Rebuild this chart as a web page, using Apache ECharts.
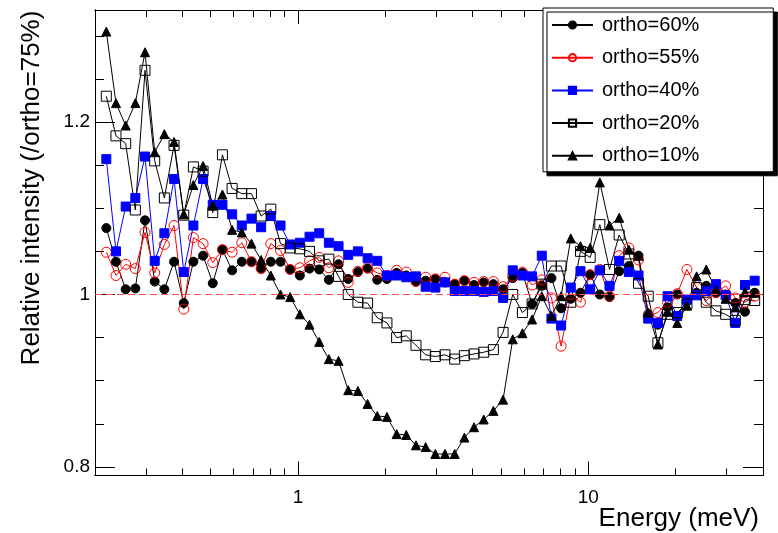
<!DOCTYPE html>
<html>
<head>
<meta charset="utf-8">
<script src="https://cdn.jsdelivr.net/npm/echarts@6/dist/echarts.min.js"></script>
<style>
  html, body { margin: 0; padding: 0; background: #fff; }
  #chart { width: 778px; height: 533px; }
</style>
</head>
<body>
<div id="chart"></div>
<script>
  // energy bin centres (meV)
  const ENERGY = [
    0.2188, 0.2362, 0.2551, 0.2754, 0.2974, 0.3211, 0.3467, 0.3744, 0.4043, 0.4365,
    0.4714, 0.5090, 0.5495, 0.5934, 0.6407, 0.6918, 0.7470, 0.8066, 0.8710, 0.9404,
    1.0155, 1.0965, 1.1840, 1.2784, 1.3804, 1.4905, 1.6094, 1.7378, 1.8764, 2.0261,
    2.1878, 2.3623, 2.5508, 2.7542, 2.9739, 3.2113, 3.4674, 3.7441, 4.0428, 4.3652,
    4.7135, 5.0896, 5.4954, 5.9339, 6.4072, 6.9183, 7.4702, 8.0661, 8.7096, 9.4043,
    10.155, 10.965, 11.840, 12.784, 13.804, 14.905, 16.094, 17.378, 18.764, 20.261,
    21.878, 23.623, 25.508, 27.542, 29.739, 32.113, 34.674, 37.441
  ];

  const ORTHO60 = [
    1.077, 1.038, 1.006, 1.007, 1.086, 1.015, 1.006, 1.038, 0.990, 1.038,
    1.045, 1.013, 1.052, 1.028, 1.038, 1.038, 1.030, 1.038, 1.038, 1.029,
    1.022, 1.030, 1.029, 1.017, 1.035, 1.018, 1.026, 1.030, 1.017, 1.018,
    1.025, 1.022, 1.015, 1.016, 1.018, 1.014, 1.012, 1.016, 1.011, 1.014,
    1.012, 1.006, 1.019, 1.025, 0.989, 1.010, 1.019, 0.984, 0.995, 1.002,
    1.023, 1.000, 0.997, 1.027, 1.033, 1.045, 0.977, 0.965, 0.985, 1.000,
    0.992, 1.002, 1.010, 1.002, 1.000, 0.990, 0.980, 1.002
  ];

  const ORTHO55 = [
    1.049, 1.022, 1.035, 1.030, 1.072, 1.025, 1.058, 1.080, 0.983, 1.066,
    1.059, 1.037, 1.052, 1.049, 1.060, 1.038, 1.030, 1.059, 1.051, 1.029,
    1.031, 1.039, 1.043, 1.031, 1.039, 1.014, 1.027, 1.031, 1.025, 1.022,
    1.028, 1.026, 1.015, 1.020, 1.018, 1.020, 1.012, 1.016, 1.014, 1.015,
    1.015, 1.009, 1.021, 1.026, 1.011, 1.017, 0.996, 0.940, 1.000, 0.991,
    1.023, 1.029, 0.998, 1.045, 1.054, 1.040, 0.975, 0.979, 0.991, 1.001,
    1.029, 1.008, 0.993, 1.002, 1.010, 0.996, 0.991, 0.998
  ];

  const ORTHO40 = [
    1.157, 1.050, 1.102, 1.112, 1.160, 1.039, 1.071, 1.134, 1.026, 1.080,
    1.134, 1.104, 1.104, 1.093, 1.080, 1.088, 1.078, 1.091, 1.080, 1.058,
    1.060, 1.067, 1.071, 1.060, 1.056, 1.046, 1.050, 1.042, 1.039, 1.022,
    1.022, 1.020, 1.021, 1.009, 1.008, 1.014, 1.004, 1.004, 1.004, 1.003,
    1.004, 0.996, 1.028, 1.022, 1.021, 1.045, 0.972, 0.964, 1.008, 1.027,
    1.006, 1.028, 1.010, 1.039, 1.026, 1.022, 0.972, 0.967, 0.998, 0.975,
    0.994, 0.999, 1.004, 1.012, 0.999, 0.967, 1.011, 1.016
  ];

  const ORTHO20 = [
    1.230, 1.184, 1.175, 1.098, 1.260, 1.155, 1.112, 1.173, 1.092, 1.148,
    1.143, 1.095, 1.162, 1.123, 1.117, 1.117, 1.091, 1.099, 1.059, 1.054,
    1.053, 1.050, 1.039, 1.041, 1.021, 1.000, 0.991, 0.990, 0.973, 0.967,
    0.950, 0.952, 0.941, 0.930, 0.928, 0.930, 0.925, 0.929, 0.931, 0.933,
    0.936, 0.956, 1.000, 0.979, 0.989, 1.012, 1.033, 1.033, 0.991, 1.050,
    1.043, 1.081, 1.029, 1.069, 1.047, 1.013, 0.998, 0.944, 0.977, 0.979,
    0.989, 1.008, 0.991, 0.981, 0.977, 0.970, 0.994, 0.993
  ];

  const ORTHO10 = [
    1.305, 1.222, 1.196, 1.222, 1.281, 1.165, 1.186, 1.177, 1.093, 1.127,
    1.149, 1.103, 1.116, 1.075, 1.072, 1.059, 1.040, 1.022, 1.000, 0.997,
    0.977, 0.965, 0.945, 0.925, 0.923, 0.889, 0.888, 0.873, 0.859, 0.858,
    0.838, 0.837, 0.825, 0.823, 0.815, 0.815, 0.815, 0.834, 0.846, 0.855,
    0.865, 0.878, 0.948, 0.955, 0.971, 0.998, 0.975, 0.998, 1.065, 1.056,
    1.054, 1.130, 1.080, 1.089, 1.052, 1.045, 0.979, 0.942, 0.980, 0.967,
    0.987, 1.021, 1.029, 1.005, 0.995, 0.985, 1.003, 1.002
  ];

  const X_MAJOR = [1, 10];
  const X_MINOR = [0.3, 0.4, 0.5, 0.6, 0.7, 0.8, 0.9, 2, 3, 4, 5, 6, 7, 8, 9, 20, 30];
  const Y_MAJOR = [0.8, 1, 1.2];
  const Y_MINOR = [0.85, 0.9, 0.95, 1.05, 1.1, 1.15, 1.25, 1.3];

  const FONT = '"Liberation Sans", Arial, Helvetica, sans-serif';

  const chart = echarts.init(document.getElementById("chart"), null, { renderer: "canvas" });

  const pts = (vals) => ENERGY.map((e, i) => [e, vals[i]]);

  function xAx(pos, ticks, len, labels) {
    return {
      type: "log", logBase: 10, min: 0.2, max: 40, position: pos,
      axisLine: { show: true, lineStyle: { color: "#000", width: 1 } },
      axisTick: { show: true, inside: true, length: len, customValues: ticks,
                  lineStyle: { color: "#000", width: 1 } },
      axisLabel: labels
        ? { show: true, customValues: ticks, margin: 13, color: "#000",
            fontSize: 19, fontFamily: FONT, formatter: (v) => String(v) }
        : { show: false },
      splitLine: { show: false },
    };
  }

  function yAx(pos, ticks, len, labels) {
    return {
      type: "value", min: 0.79, max: 1.33, position: pos,
      axisLine: { show: true, lineStyle: { color: "#000", width: 1 } },
      axisTick: { show: true, inside: true, length: len, customValues: ticks,
                  lineStyle: { color: "#000", width: 1 } },
      axisLabel: labels
        ? { show: true, customValues: ticks, margin: 5, color: "#000",
            fontSize: 19, fontFamily: FONT, formatter: (v) => String(+v.toFixed(2)) }
        : { show: false },
      splitLine: { show: false },
    };
  }

  function series(name, vals, symbol, size, color, fill, opts) {
    return Object.assign({
      name: name, type: "line", data: pts(vals),
      xAxisIndex: 0, yAxisIndex: 0,
      symbol: symbol, symbolSize: size,
      showAllSymbol: true, animation: false,
      lineStyle: { color: color, width: 1 },
      itemStyle: { color: fill, borderColor: color, borderWidth: 1 },
      emphasis: { disabled: true },
    }, opts || {});
  }

  chart.setOption({
    backgroundColor: "#fff",
    animation: false,
    grid: { left: 95, right: 15, top: 10, bottom: 57.5 },
    xAxis: [
      xAx("bottom", X_MAJOR, 14, true),
      xAx("bottom", X_MINOR, 7, false),
      xAx("top", X_MAJOR, 14, false),
      xAx("top", X_MINOR, 7, false),
    ],
    yAxis: [
      yAx("left", Y_MAJOR, 20, true),
      yAx("left", Y_MINOR, 9, false),
      yAx("right", Y_MAJOR, 20, false),
      yAx("right", Y_MINOR, 9, false),
    ],
    legend: {
      orient: "vertical", left: 543, top: 8,
      padding: [7, 74, 6, 8],
      itemWidth: 41, itemHeight: 9, itemGap: 12.7,
      backgroundColor: "#fff", borderColor: "#000", borderWidth: 1,
      shadowColor: "#000", shadowBlur: 0, shadowOffsetX: 4, shadowOffsetY: 4,
      textStyle: { color: "#000", fontSize: 20, fontFamily: FONT, padding: [0, 0, 0, 4] },
      data: ["ortho=60%", "ortho=55%", "ortho=40%", "ortho=20%", "ortho=10%"],
    },
    graphic: [
      { type: "text", x: 32, y: 188, rotation: Math.PI / 2,
        style: { text: "Relative intensity (/ortho=75%)", font: "26px " + FONT, fill: "#000",
                 align: "center", verticalAlign: "middle",
                 textAlign: "center", textVerticalAlign: "middle" } },
      { type: "text", x: 759, y: 519,
        style: { text: "Energy (meV)", font: "26px " + FONT, fill: "#000",
                 align: "right", verticalAlign: "middle",
                 textAlign: "right", textVerticalAlign: "middle" } },
    ],
    series: [
      series("ortho=60%", ORTHO60, "circle", 9, "#000", "#000", {
        markLine: {
          silent: true, symbol: "none", animation: false,
          label: { show: false },
          lineStyle: { color: "#ff4a4a", width: 1, type: [7, 4] },
          data: [{ yAxis: 1 }],
        },
      }),
      series("ortho=55%", ORTHO55, "circle", 10, "#ff0000", "rgba(0,0,0,0)"),
      series("ortho=40%", ORTHO40, "rect", 9, "#0000ff", "#0000ff"),
      series("ortho=20%", ORTHO20, "rect", 10, "#000", "rgba(0,0,0,0)"),
      series("ortho=10%", ORTHO10, "triangle", 9, "#000", "#000"),
    ],
  });
</script>
</body>
</html>
